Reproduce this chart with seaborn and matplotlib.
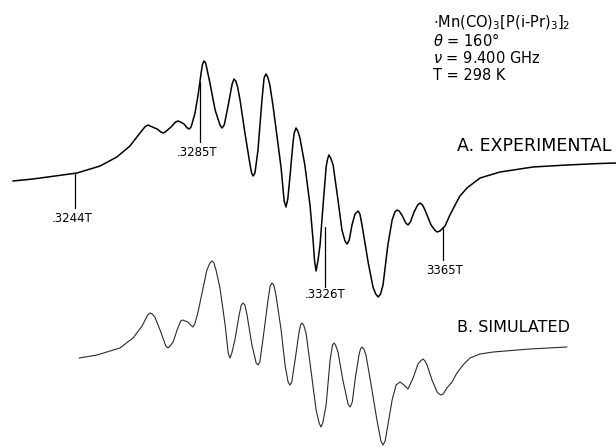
import numpy as np
import pandas as pd
import matplotlib
matplotlib.use("Agg")
import matplotlib.pyplot as plt
import seaborn as sns

# field in gauss (.3244 T = 3244 G), signal in arbitrary units
exp_field = [3223.5, 3230.1, 3237.4, 3244.6, 3252.2, 3257.7, 3262.0, 3265.3, 3266.9, 3267.9,
             3269.0, 3270.9, 3272.2, 3272.9, 3273.6, 3275.5, 3277.0, 3277.8, 3278.6, 3279.8,
             3280.7, 3281.4, 3282.0, 3282.4, 3283.4, 3284.4, 3285.4, 3285.8, 3286.3, 3286.9,
             3288.3, 3290.0, 3291.6, 3292.3, 3293.0, 3294.2, 3295.6, 3296.2, 3296.8, 3297.4,
             3298.2, 3299.8, 3301.5, 3302.0, 3302.5, 3303.1, 3304.1, 3305.4, 3306.1, 3306.7,
             3307.3, 3308.0, 3309.0, 3310.3, 3311.7, 3312.7, 3313.3, 3313.9, 3314.6, 3315.6,
             3316.0, 3316.6, 3317.2, 3317.9, 3319.5, 3321.2, 3322.2, 3322.7, 3323.2, 3323.8,
             3324.5, 3325.5, 3326.5, 3326.9, 3327.4, 3328.0, 3328.8, 3330.4, 3331.7, 3332.7,
             3333.4, 3334.1, 3335.0, 3336.0, 3337.0, 3337.6, 3338.3, 3340.3, 3341.9, 3342.8,
             3343.6, 3344.4, 3345.2, 3346.8, 3348.2, 3349.1, 3349.8, 3350.5, 3351.4, 3352.7,
             3353.4, 3354.2, 3355.4, 3356.6, 3357.4, 3358.2, 3359.0, 3361.0, 3362.2, 3363.0,
             3363.9, 3365.6, 3367.2, 3368.9, 3370.5, 3372.8, 3377.1, 3383.7, 3394.5, 3405.7,
             3416.5, 3421.8]
exp_signal = [-6, -4, -1, 2, 9, 18, 29, 42, 48, 50,
              48.5, 46, 43, 42, 43, 48, 53, 54, 53, 51,
              47.5, 46, 47.5, 51, 62, 80, 102, 110, 114, 112,
              92, 65, 50, 47, 50, 68, 91, 96, 94, 88,
              75, 42, 10, 2, -1, 2, 25, 75, 97, 101,
              98, 90, 70, 40, 7, -26, -32, -24, -2, 32,
              42, 47, 44, 37, 10, -30, -65, -86, -96, -86,
              -70, -30, 8, 15, 20, 17, 10, -25, -55, -66,
              -69, -65, -50, -39, -36, -39, -50, -87, -112, -119,
              -122, -119, -110, -70, -45, -37, -35, -36, -40, -48,
              -50, -47, -37, -30, -28, -30, -35, -50, -55, -57,
              -56, -51, -40, -30, -21, -13, -3, 3, 8, 10,
              11.5, 12]

sim_field = [3245.3, 3251.2, 3258.7, 3263.0, 3266.0, 3267.8, 3268.6, 3269.3, 3270.2, 3271.9,
             3273.8, 3274.5, 3275.2, 3276.2, 3277.5, 3278.7, 3279.4, 3280.1, 3281.1, 3282.1,
             3282.7, 3283.3, 3284.4, 3285.7, 3287.3, 3288.3, 3289.0, 3289.6, 3290.3, 3291.6,
             3293.3, 3294.3, 3294.9, 3295.5, 3296.5, 3297.9, 3298.6, 3299.2, 3299.8, 3300.5,
             3302.1, 3303.5, 3304.1, 3304.7, 3305.7, 3307.4, 3308.1, 3308.7, 3309.3, 3310.0,
             3311.7, 3313.0, 3314.0, 3314.6, 3315.2, 3316.3, 3317.6, 3318.1, 3318.6, 3319.1,
             3319.9, 3321.5, 3323.2, 3324.2, 3324.8, 3325.4, 3326.5, 3327.8, 3328.6, 3329.1,
             3329.6, 3330.4, 3332.0, 3333.7, 3334.4, 3335.1, 3336.0, 3337.3, 3337.8, 3338.3,
             3338.9, 3339.6, 3341.3, 3343.2, 3344.5, 3345.2, 3345.9, 3346.8, 3348.2, 3349.5,
             3350.8, 3352.1, 3353.4, 3355.1, 3356.7, 3357.7, 3358.4, 3359.0, 3359.7, 3361.3,
             3363.0, 3363.6, 3364.3, 3365.0, 3366.2, 3367.9, 3369.5, 3371.5, 3373.8, 3377.1,
             3381.4, 3393.5, 3405.7]
sim_signal = [-3, 0, 7, 17, 29, 40, 42, 41, 38, 25,
              9, 7, 9, 13, 25, 34, 35, 34, 33, 29.5,
              28, 31, 43, 62, 85, 92, 94, 92, 85, 67,
              30, 2, -3, 2, 15, 40, 50, 52, 50, 40,
              10, -8, -10, -7, 15, 55, 69, 72, 70, 60,
              25, -10, -27, -30, -27, -5, 23, 30, 32, 30,
              22, -15, -55, -68, -72, -68, -50, -5, 10, 12,
              10, 3, -25, -49, -52, -47, -25, 0, 6, 8,
              6, 0, -30, -65, -86, -90, -86, -70, -45, -30,
              -27, -30, -34, -23, -9, -5.5, -4, -6, -10, -25,
              -37, -39, -40, -39, -33, -27, -18, -10, -3, 1,
              3, 6, 8]

tick_fields = [3244, 3285, 3326, 3365]
tick_labels = [".3244T", ".3285T", ".3326T", "3365T"]

info_lines = [r"$\cdot$Mn(CO)$_3$[P(i-Pr)$_3$]$_2$",
              r"$\theta$ = 160°",
              r"$\nu$ = 9.400 GHz",
              "T = 298 K"]

# vertical placement of the two traces
exp_offset = -175
sim_offset = -355

exp_df = pd.DataFrame({"field": exp_field, "signal": np.array(exp_signal) + exp_offset})
sim_df = pd.DataFrame({"field": sim_field, "signal": np.array(sim_signal) + sim_offset})

sns.set_style("white")
plt.rcParams["font.family"] = ["DejaVu Sans"]
plt.rcParams["text.color"] = "black"
plt.rcParams["mathtext.fontset"] = "dejavusans"

fig = plt.figure(figsize=(6.16, 4.48), dpi=100)
ax = fig.add_axes([0, 0, 1, 1])

sns.lineplot(data=exp_df, x="field", y="signal", ax=ax, color="black", lw=1.1,
             sort=False, estimator=None)
sns.lineplot(data=sim_df, x="field", y="signal", ax=ax, color="#2a2a2a", lw=0.8,
             sort=False, estimator=None)

# field markers hanging from the experimental trace
tick_bottoms = [-208, -142, -287, -260]
label_pos = [(3243.0, -218), (3284.0, -153), (3326.1, -295), (3365.6, -270)]
for f, lab, bot, (lx, ly) in zip(tick_fields, tick_labels, tick_bottoms, label_pos):
    top = min(np.interp(f, exp_field, exp_signal) + exp_offset, bot + 60)
    ax.plot([f, f], [top, bot], color="black", lw=0.9)
    ax.text(lx, ly, lab, ha="center", va="center", fontsize=8.5)

for i, line in enumerate(info_lines):
    ax.text(3361.6, -23 - i * 17.5, line, ha="left", va="center", fontsize=10.5)

ax.text(3369.5, -146, "A. EXPERIMENTAL", ha="left", va="center", fontsize=12.5)
ax.text(3369.5, -327, "B. SIMULATED", ha="left", va="center", fontsize=11.5)

ax.set_xlim(3219.28, 3421.8)
ax.set_ylim(-448, 0)
ax.axis("off")

fig.savefig("out.png", dpi=100, facecolor="white")
